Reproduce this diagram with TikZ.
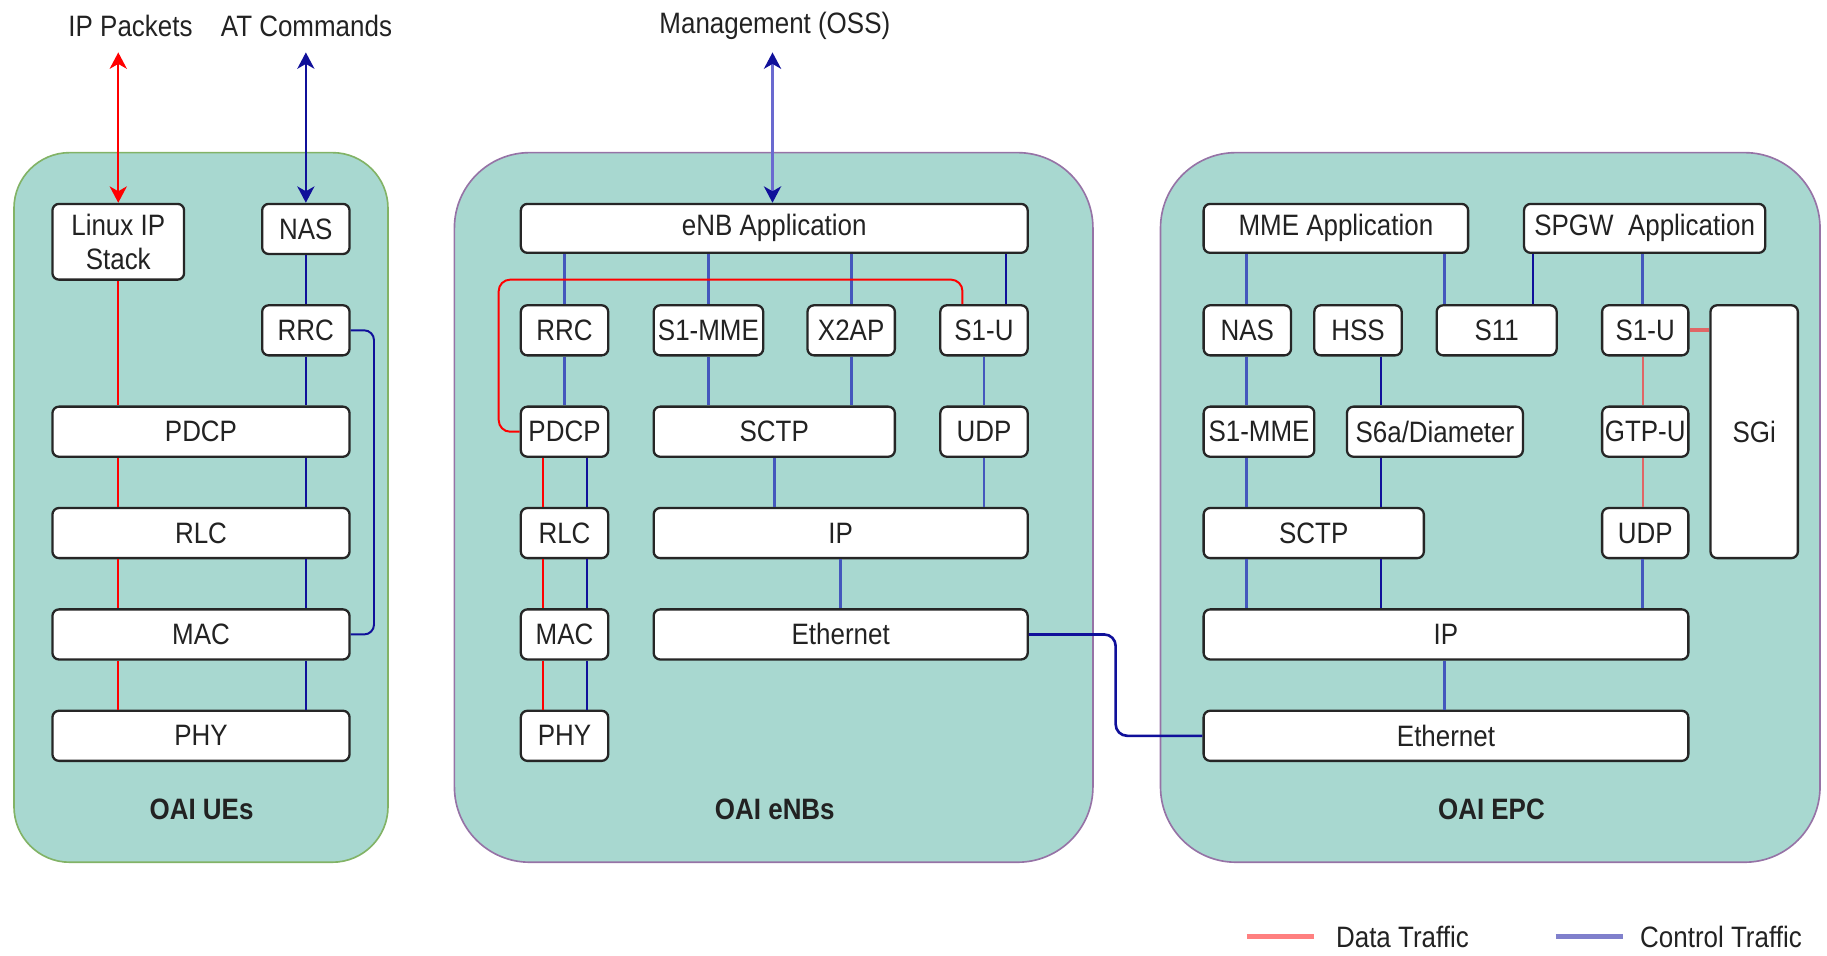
\documentclass[tikz,border=0pt]{standalone}
\usepackage{fontspec}
\setmainfont{Liberation Sans}[FakeStretch=0.88]
\usetikzlibrary{arrows.meta,calc}
\definecolor{cfill}{HTML}{A8D8D0}
\definecolor{ugreen}{HTML}{82B366}
\definecolor{cpurple}{HTML}{9673A6}
\definecolor{dred}{HTML}{FF0000}
\definecolor{ered}{HTML}{E06666}
\definecolor{dblue}{HTML}{10109A}
\definecolor{mblue}{HTML}{4457BD}
\definecolor{mgmtblue}{HTML}{6A6AD0}
\definecolor{lgred}{HTML}{FF8080}
\definecolor{lgblue}{HTML}{8080CC}
\definecolor{txt}{HTML}{222222}
\newcommand\stackbox[6]{\node[box, minimum width={(#4-#2)*0.025cm}, minimum height={(#5-#3)*0.025cm}] (#1) at ({(#2+#4)/2},{(#3+#5)/2}) {#6};}
\newcommand\contbox[6]{\node[cont, #6, minimum width={(#4-#2)*0.025cm}, minimum height={(#5-#3)*0.025cm}] (#1) at ({(#2+#4)/2},{(#3+#5)/2}) {};}
\begin{document}
\begin{tikzpicture}[x=0.025cm, y=-0.025cm,
  font=\fontsize{18}{21}\selectfont,
  box/.style={draw=black!85, fill=white, rounded corners=4pt, line width=1.4pt, inner sep=0pt, align=center, text=txt},
  cont/.style={fill=cfill, line width=1pt, inner sep=0pt},
  lbl/.style={text=txt, inner sep=1pt},
  redl/.style={draw=dred, line width=1.2pt},
  eredl/.style={draw=ered, line width=1.4pt},
  dbl/.style={draw=dblue, line width=1.2pt},
  mbl/.style={draw=mblue, line width=1.8pt}
]
\useasboundingbox (0,0) rectangle (1568,820);

% containers
\contbox{ue}{12}{131}{333}{740}{draw=ugreen, rounded corners=34pt}
\contbox{enb}{390}{131}{938}{740}{draw=cpurple, rounded corners=46pt}
\contbox{epc}{996}{131}{1562}{740}{draw=cpurple, rounded corners=46pt}
\node[lbl, font=\fontsize{18}{21}\selectfont\bfseries] (uelbl) at (173,695) {OAI UEs};
\node[lbl, font=\fontsize{18}{21}\selectfont\bfseries] (enblbl) at (665,695) {OAI eNBs};
\node[lbl, font=\fontsize{18}{21}\selectfont\bfseries] (epclbl) at (1280,695) {OAI EPC};

% top labels
\node[lbl] (ipp) at (112,22) {IP Packets};
\node[lbl] (atc) at (263,22) {AT Commands};
\node[lbl] (mgmt) at (665,22) {Management (OSS)};

% UE boxes
\stackbox{linux}{45}{175}{158}{240}{Linux IP\\Stack}
\stackbox{unas}{225}{175}{300}{218}{NAS}
\stackbox{urrc}{225}{262}{300}{305}{RRC}
\stackbox{updcp}{45}{349}{300}{392}{PDCP}
\stackbox{urlc}{45}{436}{300}{479}{RLC}
\stackbox{umac}{45}{523}{300}{566}{MAC}
\stackbox{uphy}{45}{610}{300}{653}{PHY}

% eNB boxes
\stackbox{eapp}{447}{175}{882}{217}{eNB Application}
\stackbox{errc}{447}{262}{522}{305}{RRC}
\stackbox{es1mme}{561}{262}{655}{305}{S1-MME}
\stackbox{ex2ap}{693}{262}{768}{305}{X2AP}
\stackbox{es1u}{807}{262}{882}{305}{S1-U}
\stackbox{epdcp}{447}{349}{522}{392}{PDCP}
\stackbox{esctp}{561}{349}{768}{392}{SCTP}
\stackbox{eudp}{807}{349}{882}{392}{UDP}
\stackbox{erlc}{447}{436}{522}{479}{RLC}
\stackbox{eip}{561}{436}{882}{479}{IP}
\stackbox{emac}{447}{523}{522}{566}{MAC}
\stackbox{eeth}{561}{523}{882}{566}{Ethernet}
\stackbox{ephy}{447}{610}{522}{653}{PHY}

% EPC boxes
\stackbox{mmeapp}{1033}{175}{1260}{217}{MME Application}
\stackbox{spgw}{1308}{175}{1515}{217}{SPGW~~Application}
\stackbox{pnas}{1033}{262}{1108}{305}{NAS}
\stackbox{phss}{1128}{262}{1203}{305}{HSS}
\stackbox{ps11}{1233}{262}{1336}{305}{S11}
\stackbox{ps1u}{1375}{262}{1449}{305}{S1-U}
\stackbox{psgi}{1468}{262}{1543}{479}{SGi}
\stackbox{ps1mme}{1033}{349}{1128}{392}{S1-MME}
\stackbox{ps6a}{1156}{349}{1307}{392}{S6a/Diameter}
\stackbox{pgtpu}{1375}{349}{1449}{392}{GTP-U}
\stackbox{psctp}{1033}{436}{1222}{479}{SCTP}
\stackbox{pudp}{1375}{436}{1449}{479}{UDP}
\stackbox{pip}{1033}{523}{1449}{566}{IP}
\stackbox{peth}{1033}{610}{1449}{653}{Ethernet}

% free ends and helper x positions
\coordinate (ipend) at (100,45);
\coordinate (atend) at (262,45);
\coordinate (mgend) at (663,45);
\coordinate (er) at (466,0);
\coordinate (eb) at (504,0);
\coordinate (xr) at (826,0);
\coordinate (xs) at (863,0);
\coordinate (lc) at (428,240);
\coordinate (xa) at (1070,0);
\coordinate (xb) at (1185,0);
\coordinate (xc) at (1240,0);
\coordinate (xd) at (1316,0);
\coordinate (xe) at (1410,0);

% external arrows
\draw[dred, line width=1.3pt, {Stealth[length=10pt, width=10.5pt, inset=3pt]}-{Stealth[length=10pt, width=10.5pt, inset=3pt]}] (linux.north) -- (linux.north |- ipend);
\draw[dblue, line width=1.3pt, {Stealth[length=10pt, width=10.5pt, inset=3pt]}-{Stealth[length=10pt, width=10.5pt, inset=3pt]}] (unas.north) -- (unas.north |- atend);
\draw[mgmtblue, line width=1.6pt, {Stealth[length=10pt, width=10.5pt, inset=3pt, color=dblue]}-{Stealth[length=10pt, width=10.5pt, inset=3pt, color=dblue]}] (eapp.north -| mgend) -- (mgend);

% UE connectors
\draw[redl] (linux.south) -- (updcp.north -| linux.south);
\draw[redl] (updcp.south -| linux.south) -- (urlc.north -| linux.south);
\draw[redl] (urlc.south -| linux.south) -- (umac.north -| linux.south);
\draw[redl] (umac.south -| linux.south) -- (uphy.north -| linux.south);
\draw[dbl] (unas.south) -- (urrc.north);
\draw[dbl] (urrc.south) -- (updcp.north -| urrc.south);
\draw[dbl] (updcp.south -| urrc.south) -- (urlc.north -| urrc.south);
\draw[dbl] (urlc.south -| urrc.south) -- (umac.north -| urrc.south);
\draw[dbl] (umac.south -| urrc.south) -- (uphy.north -| urrc.south);
\draw[dbl, rounded corners=6pt] (urrc.east) -- ++(20,0) |- (umac.east);

% eNB connectors
\draw[mbl] (eapp.south -| errc.north) -- (errc.north);
\draw[mbl] (eapp.south -| es1mme.north) -- (es1mme.north);
\draw[mbl] (eapp.south -| ex2ap.north) -- (ex2ap.north);
\draw[dbl] (eapp.south -| xs) -- (es1u.north -| xs);
\draw[mbl] (errc.south) -- (epdcp.north);
\draw[mbl] (es1mme.south) -- (esctp.north -| es1mme.south);
\draw[mbl] (ex2ap.south) -- (esctp.north -| ex2ap.south);
\draw[mbl] (es1u.south) -- (eudp.north);
\draw[mbl] (esctp.south) -- (eip.north -| esctp.south);
\draw[mbl] (eudp.south) -- (eip.north -| eudp.south);
\draw[mbl] (eip.south -| eeth.north) -- (eeth.north);
\draw[redl, rounded corners=7pt] (es1u.north -| xr) |- (lc) |- (epdcp.west);
\draw[redl] (epdcp.south -| er) -- (erlc.north -| er);
\draw[redl] (erlc.south -| er) -- (emac.north -| er);
\draw[redl] (emac.south -| er) -- (ephy.north -| er);
\draw[dbl] (epdcp.south -| eb) -- (erlc.north -| eb);
\draw[dbl] (erlc.south -| eb) -- (emac.north -| eb);
\draw[dbl] (emac.south -| eb) -- (ephy.north -| eb);

% eNB - EPC ethernet link
\draw[dblue, line width=1.6pt, rounded corners=7pt] (eeth.east) -| ($(eeth.east)!0.5!(peth.west)$) |- (peth.west);

% EPC connectors
\draw[mbl] (mmeapp.south -| xa) -- (pnas.north -| xa);
\draw[mbl] (pnas.south -| xa) -- (ps1mme.north -| xa);
\draw[mbl] (ps1mme.south -| xa) -- (psctp.north -| xa);
\draw[mbl] (psctp.south -| xa) -- (pip.north -| xa);
\draw[dbl] (phss.south -| xb) -- (ps6a.north -| xb);
\draw[dbl] (ps6a.south -| xb) -- (psctp.north -| xb);
\draw[dbl] (psctp.south -| xb) -- (pip.north -| xb);
\draw[mbl] (mmeapp.south -| xc) -- (ps11.north -| xc);
\draw[dbl] (spgw.south -| xd) -- (ps11.north -| xd);
\draw[mbl] (spgw.south -| xe) -- (ps1u.north -| xe);
\draw[eredl] (ps1u.south -| xe) -- (pgtpu.north -| xe);
\draw[eredl] (pgtpu.south -| xe) -- (pudp.north -| xe);
\draw[mbl] (pudp.south -| xe) -- (pip.north -| xe);
\draw[mbl] (pip.south -| xc) -- (peth.north -| xc);
\draw[ered, line width=2.4pt] (ps1u.east) -- (psgi.west |- ps1u.east);

% legend
\coordinate (lra) at (1070,804);
\coordinate (lrb) at (1128,804);
\coordinate (lba) at (1335,804);
\coordinate (lbb) at (1393,804);
\draw[lgred, line width=3pt] (lra) -- (lrb);
\draw[lgblue, line width=3pt] (lba) -- (lbb);
\node[lbl, anchor=west] (ldata) at (1145,804) {Data Traffic};
\node[lbl, anchor=west] (lctrl) at (1406,804) {Control Traffic};
\end{tikzpicture}
\end{document}
